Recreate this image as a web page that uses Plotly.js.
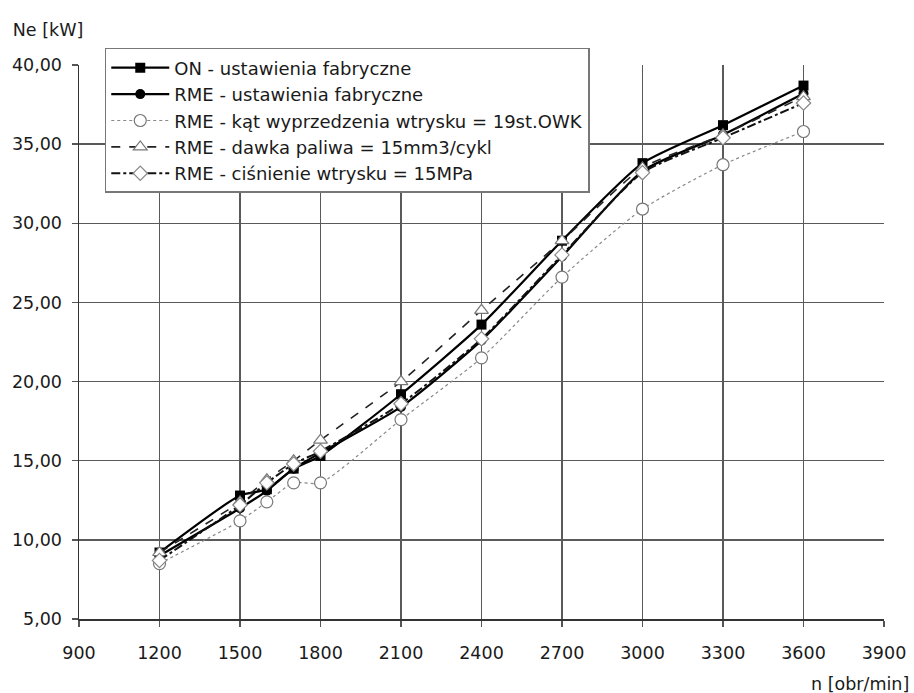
<!DOCTYPE html>
<html>
<head>
<meta charset="utf-8">
<script src="https://cdn.plot.ly/plotly-3.0.1.min.js"></script>
<style>html,body{margin:0;padding:0;background:#fff;}#chart{width:914px;height:693px;}</style>
</head>
<body>
<div id="chart"></div>
<script>
const rpm = [1200, 1500, 1600, 1700, 1800, 2100, 2400, 2700, 3000, 3300, 3600];
const onFactory   = [9.2, 12.8, 13.2, 14.5, 15.3, 19.2, 23.6, 28.9, 33.8, 36.2, 38.7];
const rmeFactory  = [9.0, 12.0, 13.1, 14.5, 15.5, 18.4, 22.6, 27.9, 33.3, 35.6, 38.2];
const rmeAngle    = [8.5, 11.2, 12.4, 13.6, 13.6, 17.6, 21.5, 26.6, 30.9, 33.7, 35.8];
const rmeDose     = [9.2, 12.4, 13.8, 15.0, 16.3, 20.0, 24.5, 28.9, 33.5, 35.6, 38.0];
const rmePressure = [8.7, 12.2, 13.6, 14.8, 15.6, 18.6, 22.7, 28.0, 33.2, 35.4, 37.6];
const seriesNames = [
  'ON - ustawienia fabryczne',
  'RME - ustawienia fabryczne',
  'RME - kąt wyprzedzenia wtrysku = 19st.OWK',
  'RME - dawka paliwa = 15mm3/cykl',
  'RME - ciśnienie wtrysku = 15MPa'
];
const xTicks = [900, 1200, 1500, 1800, 2100, 2400, 2700, 3000, 3300, 3600, 3900];
const yTicks = [5, 10, 15, 20, 25, 30, 35, 40];

const font = 'DejaVu Sans, Verdana, sans-serif';
const txt = '#1a1a1a';
const traces = [
  {x: rpm, y: onFactory, name: seriesNames[0], mode: 'lines+markers',
   line: {color: '#000', width: 2.2, shape: 'spline', smoothing: 0.6},
   marker: {symbol: 'square', size: 10, color: '#000'}},
  {x: rpm, y: rmeFactory, name: seriesNames[1], mode: 'lines+markers',
   line: {color: '#000', width: 2.2, shape: 'spline', smoothing: 0.6},
   marker: {symbol: 'circle', size: 10, color: '#000'}},
  {x: rpm, y: rmeAngle, name: seriesNames[2], mode: 'lines+markers',
   line: {color: '#888', width: 1.2, dash: 'dot', shape: 'spline', smoothing: 0.6},
   marker: {symbol: 'circle', size: 12, color: '#fff', line: {color: '#777', width: 1.2}}},
  {x: rpm, y: rmeDose, name: seriesNames[3], mode: 'lines+markers',
   line: {color: '#222', width: 1.6, dash: 'dash', shape: 'spline', smoothing: 0.6},
   marker: {symbol: 'triangle-up', size: 12, color: '#fff', line: {color: '#777', width: 1.2}}},
  {x: rpm, y: rmePressure, name: seriesNames[4], mode: 'lines+markers',
   line: {color: '#111', width: 2, dash: 'dashdot', shape: 'spline', smoothing: 0.6},
   marker: {symbol: 'diamond', size: 11, color: '#fff', line: {color: '#888', width: 1.2}}}
];

const layout = {
  width: 914, height: 693,
  margin: {l: 79, r: 30, t: 65, b: 74},
  paper_bgcolor: '#fff', plot_bgcolor: '#fff',
  separators: ', ',
  font: {family: font, size: 17.5, color: txt},
  showlegend: true,
  title: {text: 'Ne [kW]', xref: 'container', yref: 'container', x: 0.014, xanchor: 'left',
          y: 1 - 30/693, yanchor: 'middle', font: {family: font, size: 17.5, color: txt}},
  xaxis: {range: [900, 3900], tickvals: xTicks, ticktext: xTicks.map(String),
          showgrid: true, gridcolor: '#5a5a5a', gridwidth: 1.5,
          showline: true, linecolor: '#333', linewidth: 1.5, mirror: false,
          ticks: 'outside', ticklen: 6, tickcolor: '#555', tickwidth: 1.5,
          ticklabelstandoff: 11,
          zeroline: false, tickfont: {family: font, size: 17.5, color: txt}},
  yaxis: {range: [5, 40], tickvals: yTicks, tickformat: '.2f',
          showgrid: true, gridcolor: '#5a5a5a', gridwidth: 1.5,
          showline: true, linecolor: '#333', linewidth: 1.5,
          ticks: 'outside', ticklen: 6, tickcolor: '#555', tickwidth: 1.5,
          ticklabelstandoff: 6,
          zeroline: false, tickfont: {family: font, size: 17.5, color: txt}},
  legend: {x: 0.032, y: 1.0307, xanchor: 'left', yanchor: 'top',
           bgcolor: '#fff', bordercolor: '#777', borderwidth: 1.5,
           font: {family: font, size: 18, color: txt},
           itemwidth: 58, tracegroupgap: 0},
  annotations: [
    {text: 'n [obr/min]', xref: 'paper', yref: 'paper', x: 1.0335, y: -0.1173,
     xanchor: 'right', yanchor: 'middle', showarrow: false,
     font: {family: font, size: 17.5, color: txt}}
  ]
};

Plotly.newPlot('chart', traces, layout, {displayModeBar: false, staticPlot: true});
</script>
</body>
</html>
